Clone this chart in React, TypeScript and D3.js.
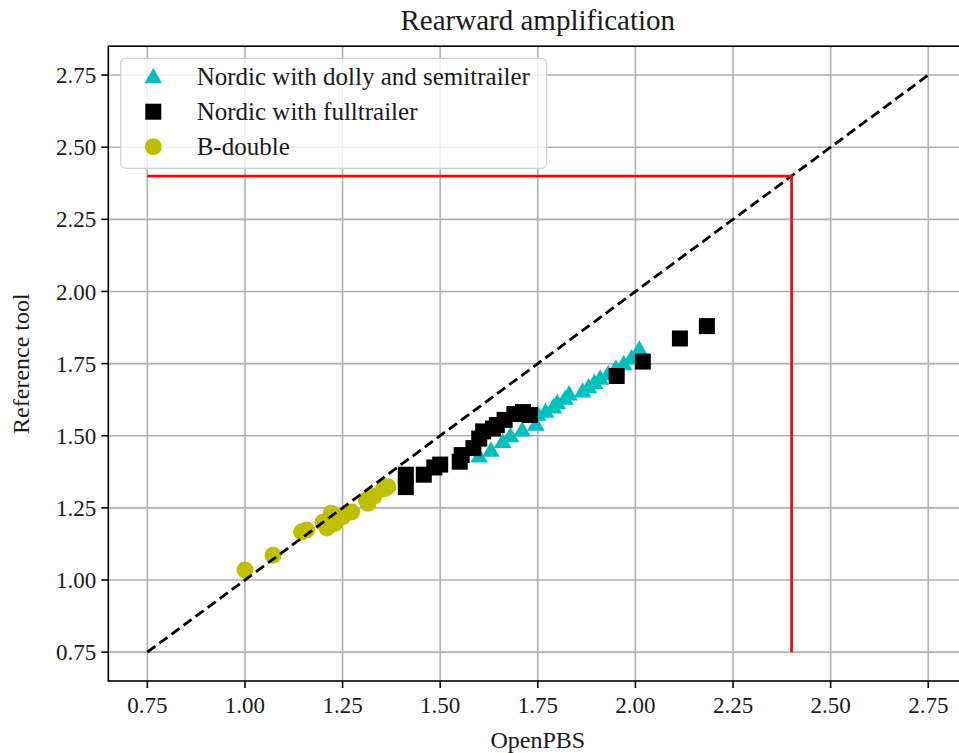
import React from "react";
import * as d3 from "d3";

const dollySemiX = [1.60, 1.63, 1.66, 1.68, 1.71, 1.745, 1.75, 1.77, 1.79, 1.80, 1.82, 1.83, 1.865, 1.88, 1.895, 1.91, 1.93, 1.95, 1.97, 1.99, 2.01];
const dollySemiY = [1.43, 1.45, 1.48, 1.50, 1.52, 1.54, 1.575, 1.585, 1.60, 1.615, 1.63, 1.645, 1.655, 1.67, 1.685, 1.70, 1.715, 1.735, 1.75, 1.77, 1.80];

const fullTrailerX = [1.412, 1.412, 1.458, 1.485, 1.50, 1.55, 1.555, 1.585, 1.60, 1.61, 1.635, 1.645, 1.665, 1.69, 1.712, 1.73, 1.952, 2.019, 2.114, 2.183];
const fullTrailerY = [1.365, 1.322, 1.365, 1.39, 1.40, 1.41, 1.433, 1.457, 1.49, 1.515, 1.525, 1.537, 1.555, 1.575, 1.582, 1.572, 1.707, 1.757, 1.837, 1.88];

const bDoubleX = [1.00, 1.072, 1.145, 1.158, 1.20, 1.21, 1.221, 1.23, 1.25, 1.273, 1.311, 1.315, 1.33, 1.355, 1.366];
const bDoubleY = [1.035, 1.086, 1.166, 1.173, 1.20, 1.18, 1.231, 1.196, 1.219, 1.236, 1.277, 1.266, 1.29, 1.315, 1.323];

const tickValues = [0.75, 1.0, 1.25, 1.5, 1.75, 2.0, 2.25, 2.5, 2.75];
const identityLine = [0.75, 2.75];
const limitX = [0.75, 2.4, 2.4];
const limitY = [2.4, 2.4, 0.75];

const seriesNames = ["Nordic with dolly and semitrailer", "Nordic with fulltrailer", "B-double"];
const seriesColors = ["#00bfbf", "#000000", "#bfbf00"];

const FONT = "'Liberation Serif', serif";

export default function App() {
  const W = 959, H = 753;
  const left = 108.3, right = 967.3, top = 46.2, bottom = 681;
  const x = d3.scaleLinear().domain([0.65, 2.85]).range([left, right]);
  const y = d3.scaleLinear().domain([0.65, 2.85]).range([bottom, top]);

  const tri = (cx: number, cy: number, h = 8.8) => `M${cx},${cy - h}L${cx - h},${cy + h * 0.75}L${cx + h},${cy + h * 0.75}Z`;
  const line = d3.line<[number, number]>().x(d => x(d[0])).y(d => y(d[1]));
  const fmt = d3.format(".2f");

  const marker = (i: number, cx: number, cy: number, key?: any) => {
    if (i === 0) return <path key={key} d={tri(cx, cy)} fill={seriesColors[0]} />;
    if (i === 1) return <rect key={key} x={cx - 8} y={cy - 8} width={16} height={16} fill={seriesColors[1]} />;
    return <circle key={key} cx={cx} cy={cy} r={8.5} fill={seriesColors[2]} />;
  };

  return (
    <svg width={W} height={H} style={{ position: "fixed", left: 0, top: 0, background: "#fff" }} fontFamily={FONT}>
      <defs>
        <clipPath id="plot"><rect x={left} y={top} width={right - left} height={bottom - top} /></clipPath>
      </defs>
      {tickValues.map(t => (
        <g key={"g" + t}>
          <line x1={x(t)} x2={x(t)} y1={top} y2={bottom} stroke="#b0b0b0" strokeWidth={1.6} />
          <line x1={left} x2={right} y1={y(t)} y2={y(t)} stroke="#b0b0b0" strokeWidth={1.6} />
        </g>
      ))}
      <g clipPath="url(#plot)">
        {dollySemiX.map((v, i) => marker(0, x(v), y(dollySemiY[i]), "t" + i))}
        {fullTrailerX.map((v, i) => marker(1, x(v), y(fullTrailerY[i]), "s" + i))}
        {bDoubleX.map((v, i) => marker(2, x(v), y(bDoubleY[i]), "c" + i))}
        <path d={line(identityLine.map(v => [v, v]) as any) || ""} fill="none" stroke="#000" strokeWidth={2.8} strokeDasharray="10,5" />
        <path d={line(limitX.map((v, i) => [v, limitY[i]]) as any) || ""} fill="none" stroke="#e01010" strokeWidth={2.7} />
      </g>
      <rect x={left} y={top} width={right - left} height={bottom - top} fill="none" stroke="#000" strokeWidth={1.6} />
      {tickValues.map(t => (
        <g key={"t" + t}>
          <line x1={x(t)} x2={x(t)} y1={bottom} y2={bottom + 7} stroke="#000" strokeWidth={1.6} />
          <text x={x(t)} y={bottom + 32} textAnchor="middle" fontSize={23} fill="#1a1a1a">{fmt(t)}</text>
          <line x1={left - 7} x2={left} y1={y(t)} y2={y(t)} stroke="#000" strokeWidth={1.6} />
          <text x={left - 12} y={y(t)} dy="0.35em" textAnchor="end" fontSize={23} fill="#1a1a1a">{fmt(t)}</text>
        </g>
      ))}
      <text x={(left + right) / 2} y={748} textAnchor="middle" fontSize={24} fill="#1a1a1a">OpenPBS</text>
      <text transform={`translate(29,${(top + bottom) / 2}) rotate(-90)`} textAnchor="middle" fontSize={24} fill="#1a1a1a">Reference tool</text>
      <text x={(left + right) / 2} y={30} textAnchor="middle" fontSize={29} fill="#1a1a1a">Rearward amplification</text>
      <rect x={120.7} y={58.3} width={426} height={110} rx={5} fill="#fff" fillOpacity={0.8} stroke="#d0d0d0" strokeWidth={1.2} />
      {seriesNames.map((n, i) => (
        <g key={n}>
          {marker(i, 153.3, 76.7 + i * 35)}
          <text x={196.7} y={76.7 + i * 35} dy="0.35em" fontSize={25} fill="#1a1a1a">{n}</text>
        </g>
      ))}
    </svg>
  );
}
